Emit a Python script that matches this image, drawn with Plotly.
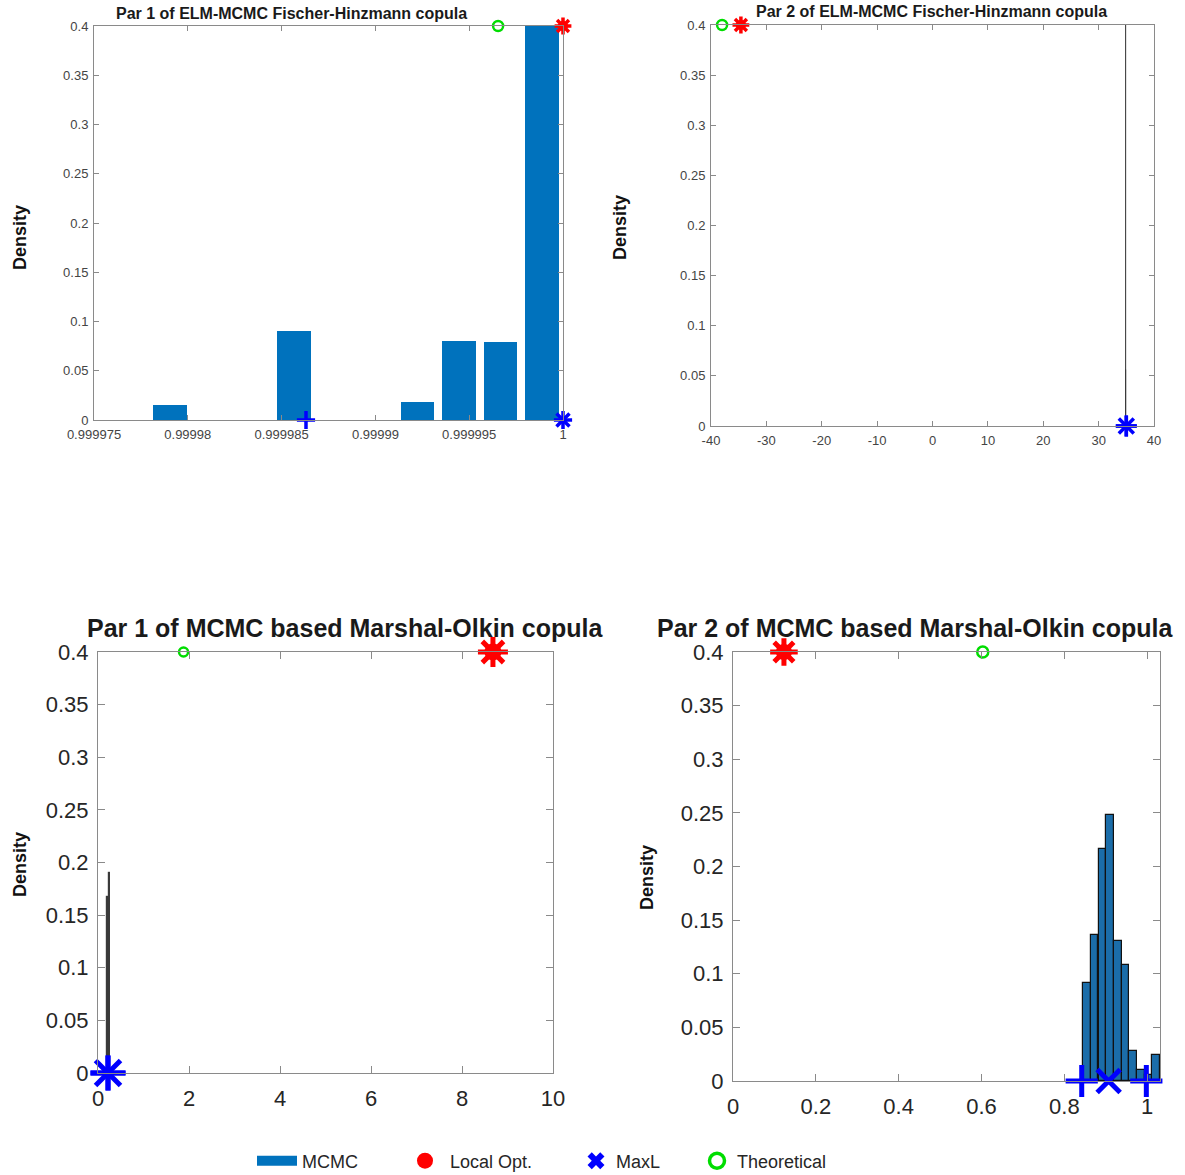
import plotly.graph_objects as go

# ---------------- data ----------------
panel_titles = [
    "Par 1 of ELM-MCMC Fischer-Hinzmann copula",
    "Par 2 of ELM-MCMC Fischer-Hinzmann copula",
    "Par 1 of MCMC based Marshal-Olkin copula",
    "Par 2 of MCMC based Marshal-Olkin copula",
]

# histogram bins (centres) and densities, one pair per panel
fh1_bin_centers = [0.99997905, 0.99998566, 0.99999224, 0.99999446, 0.99999667, 0.99999888]
fh1_density = [0.015, 0.090, 0.018, 0.080, 0.079, 0.400]

fh2_bin_centers = [34.90, 34.93]
fh2_density = [0.056, 0.600]

mo1_bin_centers = [0.21, 0.25]
mo1_density = [0.167, 0.190]

mo2_bin_centers = [0.854, 0.873, 0.892, 0.910, 0.929, 0.948, 0.966, 0.985, 1.004, 1.022]
mo2_density = [0.091, 0.136, 0.216, 0.248, 0.131, 0.108, 0.028, 0.010, 0.006, 0.024]

# point estimates (one value per panel: FH par1, FH par2, MO par1, MO par2)
local_opt = [1.0, -34.6, 8.68, 0.123]
theoretical = [0.99999654, -38.0, 1.88, 0.603]
maxl_est = [1.0, 35.0, 0.22, 0.907]
maxl_lower = [0.9999863, 35.0, 0.22, 0.842]
maxl_upper = [1.0, 35.0, 0.22, 0.998]
density_top = 0.4      # Local Opt. / Theoretical drawn at the top of the axes
density_base = 0.0     # MaxL drawn on the baseline

# axis ticks
fh1_xticks = [0.999975, 0.99998, 0.999985, 0.99999, 0.999995, 1.0]
fh1_xlabels = ["0.999975", "0.99998", "0.999985", "0.99999", "0.999995", "1"]
fh2_xticks = [-40, -30, -20, -10, 0, 10, 20, 30, 40]
fh2_xlabels = ["-40", "-30", "-20", "-10", "0", "10", "20", "30", "40"]
mo1_xticks = [0, 2, 4, 6, 8, 10]
mo1_xlabels = ["0", "2", "4", "6", "8", "10"]
mo2_xticks = [0, 0.2, 0.4, 0.6, 0.8, 1.0]
mo2_xlabels = ["0", "0.2", "0.4", "0.6", "0.8", "1"]
y_ticks = [0, 0.05, 0.1, 0.15, 0.2, 0.25, 0.3, 0.35, 0.4]
y_labels = ["0", "0.05", "0.1", "0.15", "0.2", "0.25", "0.3", "0.35", "0.4"]

legend_names = ["MCMC", "Local Opt.", "MaxL", "Theoretical"]

# ---------------- layout helpers ----------------
W, H = 1185, 1175
FONT = "Liberation Sans, Arial, Helvetica, sans-serif"


def xdom(a, b):
    return [a / W, b / W]


def ydom(top, bottom):
    return [1 - bottom / H, 1 - top / H]


panels = [
    dict(bins=fh1_bin_centers, dens=fh1_density, xr=[0.999975, 1.0],
         xt=fh1_xticks, xl=fh1_xlabels, xd=xdom(94, 563), yd=ydom(26, 420),
         bw=1.8e-6, bcol="#0072BD", blcol="#0072BD", blw=0,
         tf=13, ttf=16, tlen=5, small=True, title_xy=(291, 14), dens_x=20, dens_y=238),
    dict(bins=fh2_bin_centers, dens=fh2_density, xr=[-40, 40],
         xt=fh2_xticks, xl=fh2_xlabels, xd=xdom(711, 1154), yd=ydom(25, 426),
         bw=0.04, bcol="#3a3a3a", blcol="#3a3a3a", blw=0.8,
         tf=13, ttf=16, tlen=5, small=True, title_xy=(931, 12), dens_x=620, dens_y=228),
    dict(bins=mo1_bin_centers, dens=mo1_density, xr=[0, 10],
         xt=mo1_xticks, xl=mo1_xlabels, xd=xdom(98, 553), yd=ydom(652, 1073),
         bw=0.02, bcol="#3a3a3a", blcol="#3a3a3a", blw=1.2,
         tf=22, ttf=25, tlen=7, small=False, title_xy=(345, 628), dens_x=20, dens_y=865),
    dict(bins=mo2_bin_centers, dens=mo2_density, xr=[0, 1.031],
         xt=mo2_xticks, xl=mo2_xlabels, xd=xdom(733, 1160), yd=ydom(652, 1081),
         bw=0.0186, bcol="#1B6DA9", blcol="#111111", blw=1.2,
         tf=22, ttf=25, tlen=7, small=False, title_xy=(915, 628), dens_x=647, dens_y=877),
]

# marker sizes per panel
red_ast = [14, 14, 25, 23]
red_dot = [10, 10, 17, 16]
blue_sz = [13, 15, 25, 23]
green_sz = [10, 10, 9, 11]

fig = go.Figure()
annotations = []
layout_axes = {}

for i, p in enumerate(panels):
    k = "" if i == 0 else str(i + 1)
    xa, ya = "x" + k, "y" + k
    lw = 3.5 if p["small"] else 5

    # histogram
    fig.add_trace(go.Bar(
        x=p["bins"], y=p["dens"], width=p["bw"], xaxis=xa, yaxis=ya,
        marker=dict(color=p["bcol"], line=dict(color=p["blcol"], width=p["blw"])),
        name=legend_names[0], showlegend=False, hoverinfo="x+y",
    ))
    # local optimum (red asterisk over filled dot)
    fig.add_trace(go.Scatter(
        x=[local_opt[i]], y=[density_top], xaxis=xa, yaxis=ya, mode="markers",
        marker=dict(symbol="circle", size=red_dot[i], color="#ff0000"),
        showlegend=False, cliponaxis=False))
    fig.add_trace(go.Scatter(
        x=[local_opt[i]], y=[density_top], xaxis=xa, yaxis=ya, mode="markers",
        marker=dict(symbol="asterisk", size=red_ast[i],
                    line=dict(color="#ff0000", width=lw)),
        showlegend=False, cliponaxis=False))
    # theoretical (green open circle)
    fig.add_trace(go.Scatter(
        x=[theoretical[i]], y=[density_top], xaxis=xa, yaxis=ya, mode="markers",
        marker=dict(symbol="circle-open", size=green_sz[i], color="#00dd00",
                    line=dict(color="#00dd00", width=2.5)),
        showlegend=False, cliponaxis=False))
    # MaxL bounds (+) and estimate (x)
    fig.add_trace(go.Scatter(
        x=[maxl_lower[i], maxl_upper[i]], y=[density_base, density_base],
        xaxis=xa, yaxis=ya, mode="markers",
        marker=dict(symbol="cross-thin", size=blue_sz[i],
                    line=dict(color="#0000ff", width=lw)),
        showlegend=False, cliponaxis=False))
    fig.add_trace(go.Scatter(
        x=[maxl_est[i]], y=[density_base], xaxis=xa, yaxis=ya, mode="markers",
        marker=dict(symbol="x-thin", size=blue_sz[i],
                    line=dict(color="#0000ff", width=lw)),
        showlegend=False, cliponaxis=False))

    tick_font = dict(family=FONT, size=p["tf"], color="#444444" if p["small"] else "#262626")
    layout_axes["xaxis" + k] = dict(
        domain=p["xd"], anchor=ya, range=p["xr"], tickmode="array",
        tickvals=p["xt"], ticktext=p["xl"], ticks="inside", ticklen=p["tlen"],
        tickcolor="#8a8a8a", showline=True, linecolor="#8a8a8a", linewidth=1,
        mirror="ticks", showgrid=False, zeroline=False, tickfont=tick_font,
        automargin=False, ticklabelstandoff=2 if p["small"] else 6, fixedrange=True)
    layout_axes["yaxis" + k] = dict(
        domain=p["yd"], anchor=xa, range=[0, 0.4], tickmode="array",
        tickvals=y_ticks, ticktext=y_labels, ticks="inside", ticklen=p["tlen"],
        tickcolor="#8a8a8a", showline=True, linecolor="#8a8a8a", linewidth=1,
        mirror="ticks", showgrid=False, zeroline=False, tickfont=tick_font,
        automargin=False, ticklabelstandoff=2 if p["small"] else 4, fixedrange=True)

    tx, ty = p["title_xy"]
    annotations.append(dict(
        text="<b>" + panel_titles[i] + "</b>", x=tx / W, y=1 - ty / H,
        xref="paper", yref="paper", showarrow=False, xanchor="center", yanchor="middle",
        font=dict(family=FONT, size=p["ttf"], color="#1a1a1a")))
    annotations.append(dict(
        text="<b>Density</b>", x=p["dens_x"] / W, y=1 - p["dens_y"] / H,
        xref="paper", yref="paper", showarrow=False, textangle=-90,
        xanchor="center", yanchor="middle",
        font=dict(family=FONT, size=18, color="#111111")))

# legend entries (each in its own legend box so it can be placed like the reference)
fig.add_trace(go.Scatter(x=[None], y=[None], mode="lines", name=legend_names[0],
                         line=dict(color="#0072BD", width=18), legend="legend"))
fig.add_trace(go.Scatter(x=[None], y=[None], mode="markers", name=legend_names[1],
                         marker=dict(symbol="circle", size=17, color="#ff0000"),
                         legend="legend2"))
fig.add_trace(go.Scatter(x=[None], y=[None], mode="markers", name=legend_names[2],
                         marker=dict(symbol="x", size=15, color="#0000ff"),
                         legend="legend3"))
fig.add_trace(go.Scatter(x=[None], y=[None], mode="markers", name=legend_names[3],
                         marker=dict(symbol="circle-open", size=15, color="#00dd00",
                                     line=dict(color="#00dd00", width=3.5)),
                         legend="legend4"))

legend_y = 1 - 1161 / H


def legend_box(left_px, itemwidth=30):
    return dict(orientation="h", x=left_px / W, xanchor="left", y=legend_y,
                yanchor="middle", font=dict(family=FONT, size=18, color="#262626"),
                itemsizing="trace", itemwidth=itemwidth, bgcolor="rgba(0,0,0,0)",
                borderwidth=0)


fig.update_layout(
    width=W, height=H, autosize=False,
    margin=dict(l=0, r=0, t=0, b=0, autoexpand=False),
    paper_bgcolor="white", plot_bgcolor="white",
    barmode="overlay", bargap=0,
    font=dict(family=FONT, color="#262626"),
    showlegend=True,
    legend=legend_box(252, 40),
    legend2=legend_box(400, 40),
    legend3=legend_box(576),
    legend4=legend_box(697),
    annotations=annotations,
    **layout_axes,
)

fig.write_html("out.html")
